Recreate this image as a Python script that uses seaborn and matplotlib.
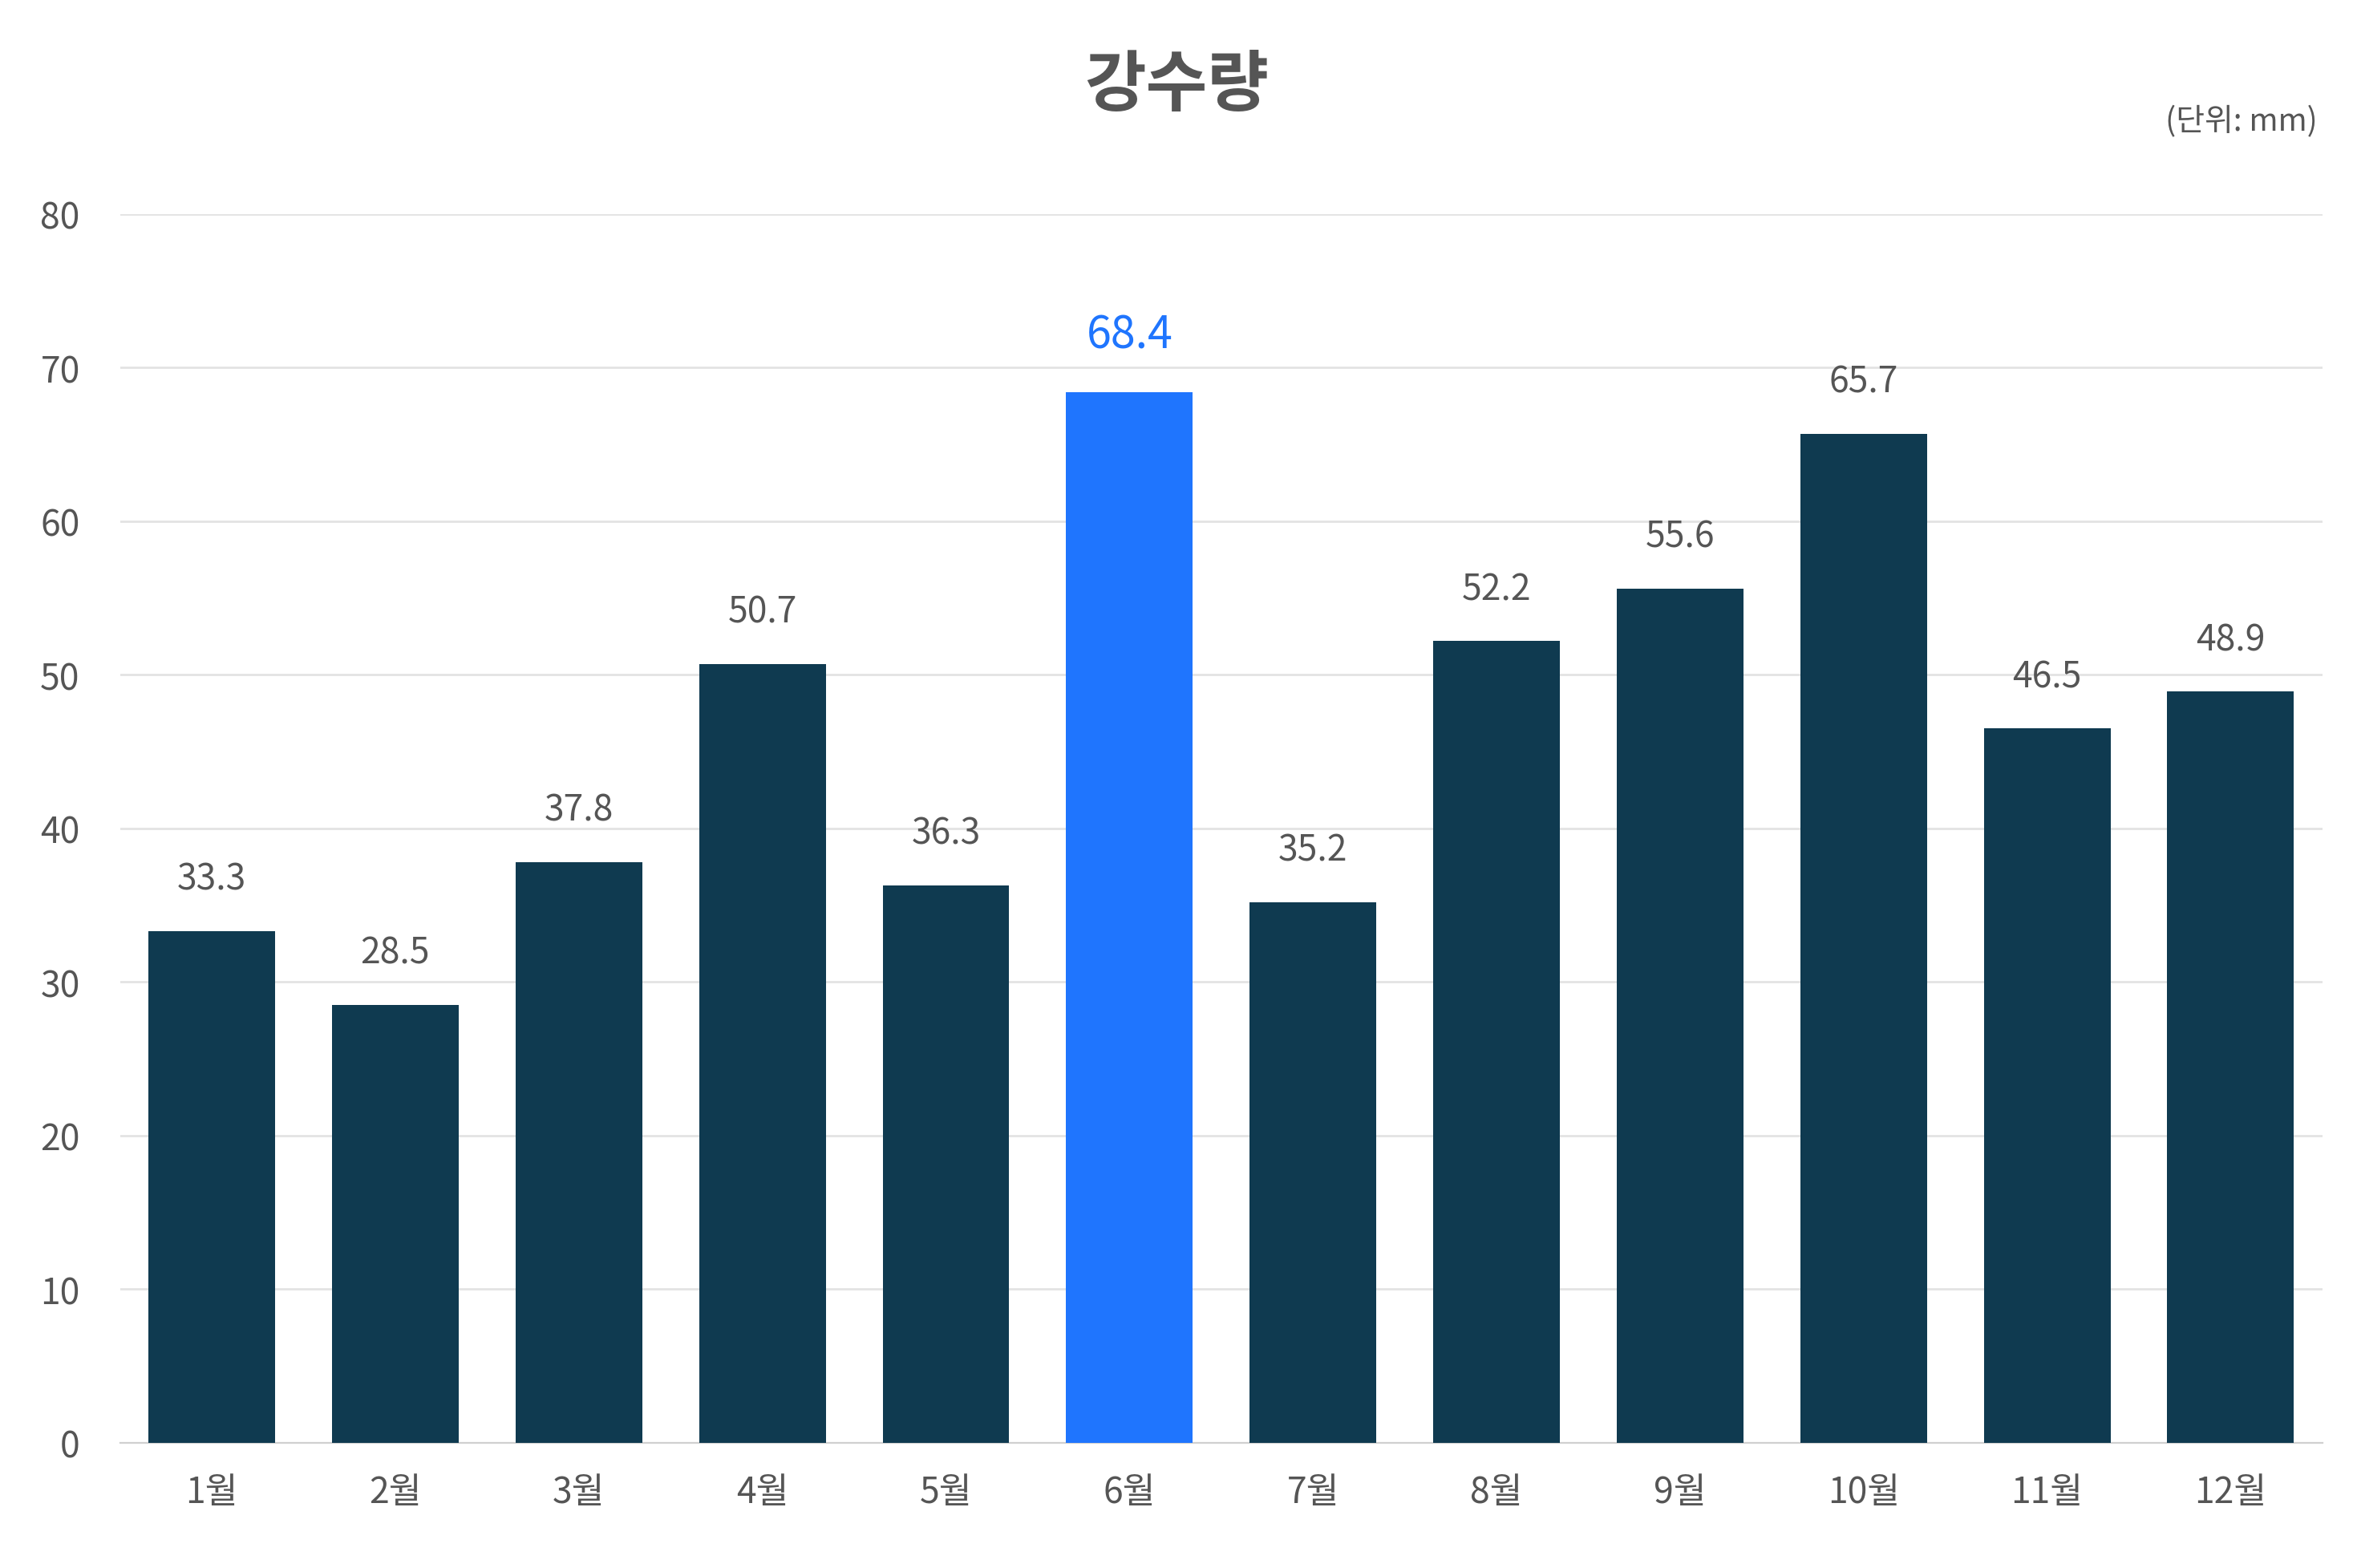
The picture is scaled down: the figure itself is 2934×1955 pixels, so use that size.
import matplotlib
matplotlib.use("Agg")
import matplotlib.pyplot as plt
import seaborn as sns
import pandas as pd

months = ["1월","2월","3월","4월","5월","6월","7월","8월","9월","10월","11월","12월"]
rain = [33.3,28.5,37.8,50.7,36.3,68.4,35.2,52.2,55.6,65.7,46.5,48.9]
yticks = [0,10,20,30,40,50,60,70,80]

plt.rcParams["font.family"] = "Noto Sans CJK KR"
df = pd.DataFrame({"month": months, "rain": rain})
hi = max(range(len(rain)), key=lambda i: rain[i])
palette = ["#1f75fe" if i == hi else "#0f3a50" for i in range(len(months))]

fig = plt.figure(figsize=(14.67, 9.78), dpi=200)
ax = fig.add_axes([0.051, 0.080, 0.936, 0.783])
sns.barplot(data=df, x="month", y="rain", hue="month", palette=palette,
            legend=False, width=0.69, ax=ax, zorder=3, saturation=1)
ax.set_ylim(0, 80)
ax.set_xlim(-0.5, 11.5)
ax.set_yticks(yticks)
ax.grid(axis="y", color="#e3e3e3", linewidth=1, zorder=0)
for s in ["top", "right", "left"]:
    ax.spines[s].set_visible(False)
ax.spines["bottom"].set_color("#d0d0d0")
ax.tick_params(axis="both", length=0, labelsize=16, labelcolor="#555555")
ax.tick_params(axis="x", pad=14)
ax.tick_params(axis="y", pad=18)
ax.set_xlabel(""); ax.set_ylabel("")
for i, v in enumerate(rain):
    if i == hi:
        ax.text(i, v + 2.2, f"{v}", ha="center", va="bottom", fontsize=20,
                color="#1f75fe", fontweight="medium")
    else:
        ax.text(i, v + 2.2, f"{v}", ha="center", va="bottom", fontsize=16,
                color="#555555")
fig.text(0.5, 0.945, "강수량", ha="center", va="center", fontsize=30,
         fontweight="bold", color="#555555")
fig.text(0.985, 0.922, "(단위: mm)", ha="right", va="center", fontsize=14,
         color="#555555")
fig.savefig("out.png", dpi=200)
